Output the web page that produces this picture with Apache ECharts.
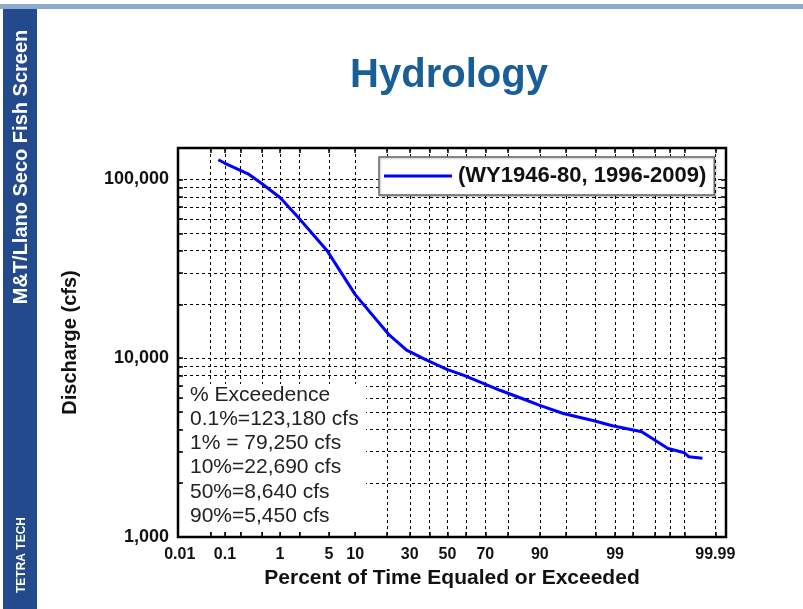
<!DOCTYPE html>
<html>
<head>
<meta charset="utf-8">
<script src="https://cdn.jsdelivr.net/npm/echarts@6/dist/echarts.min.js"></script>
<style>
  html, body { margin: 0; padding: 0; background: #ffffff; }
  #chart { width: 803px; height: 609px; }
</style>
</head>
<body>
<div id="chart"></div>
<script>
// Flow-duration curve: percent of time a discharge is equaled or exceeded
const exceedPct = [0.073, 0.1, 0.28, 0.5, 1, 1.9, 4.7, 10, 21, 28.5, 38.6, 50, 58.7, 76.7, 86.4, 90, 94.6, 97.9, 98.9, 99.65, 99.89, 99.95, 99.96, 99.98];
const dischargeCfs = [128900, 123180, 107600, 94600, 79250, 61500, 40100, 22690, 13450, 11090, 9750, 8640, 8040, 6620, 5820, 5450, 4910, 4470, 4190, 3875, 3125, 2960, 2810, 2755];

// Probability-axis grid lines and labelled ticks (percent)
const gridPct = [0.05, 0.1, 0.2, 0.5, 1, 2, 5, 10, 20, 30, 40, 50, 60, 70, 80, 90, 95, 98, 99, 99.5, 99.8, 99.9, 99.95, 99.99];
const labelPct = [0.01, 0.1, 1, 5, 10, 30, 50, 70, 90, 99, 99.99];
const pctRange = [0.0091, 99.9945];

// Log discharge axis
const gridCfs = [2000, 3000, 4000, 5000, 6000, 7000, 8000, 9000, 10000, 20000, 30000, 40000, 50000, 60000, 70000, 80000, 90000, 100000];
const labelCfs = [1000, 10000, 100000];
const cfsRange = [1000, 150000];

const seriesName = '(WY1946-80, 1996-2009)';
const exceedenceNotes = ['% Exceedence', '0.1%=123,180 cfs', '1% = 79,250 cfs', '10%=22,690 cfs', '50%=8,640 cfs', '90%=5,450 cfs'];

// Inverse standard normal CDF (Acklam) - turns a probability into the normal-score coordinate
function normInv(p) {
  const a = [-3.969683028665376e+01, 2.209460984245205e+02, -2.759285104469687e+02, 1.383577518672690e+02, -3.066479806614716e+01, 2.506628277459239e+00];
  const b = [-5.447609879822406e+01, 1.615858368580409e+02, -1.556989798598866e+02, 6.680131188771972e+01, -1.328068155288572e+01];
  const c = [-7.784894002430293e-03, -3.223964580411365e-01, -2.400758277161838e+00, -2.549732539343734e+00, 4.374664141464968e+00, 2.938163982698783e+00];
  const d = [7.784695709041462e-03, 3.224671290700398e-01, 2.445134137142996e+00, 3.754408661907416e+00];
  const pl = 0.02425;
  if (p < pl) {
    const q = Math.sqrt(-2 * Math.log(p));
    return (((((c[0]*q+c[1])*q+c[2])*q+c[3])*q+c[4])*q+c[5]) / ((((d[0]*q+d[1])*q+d[2])*q+d[3])*q+1);
  }
  if (p > 1 - pl) {
    const q = Math.sqrt(-2 * Math.log(1 - p));
    return -(((((c[0]*q+c[1])*q+c[2])*q+c[3])*q+c[4])*q+c[5]) / ((((d[0]*q+d[1])*q+d[2])*q+d[3])*q+1);
  }
  const q = p - 0.5, r = q * q;
  return (((((a[0]*r+a[1])*r+a[2])*r+a[3])*r+a[4])*r+a[5])*q / (((((b[0]*r+b[1])*r+b[2])*r+b[3])*r+b[4])*r+1);
}
const pz = pct => normInv(pct / 100);

const gridZ = gridPct.map(pz);
const labelZ = labelPct.map(pz);
function pctLabel(z) {
  let best = 0;
  labelZ.forEach((v, i) => { if (Math.abs(v - z) < Math.abs(labelZ[best] - z)) best = i; });
  return String(labelPct[best]);
}

const FONT = '"Liberation Sans", Arial, Helvetica, sans-serif';
const lineData = exceedPct.map((p, i) => [pz(p), dischargeCfs[i]]);

const chart = echarts.init(document.getElementById('chart'), null, { renderer: 'canvas' });

const gridDash = { color: '#000', width: 1, type: [3, 3] };
const tickStyle = { color: '#000', width: 1.5 };

const noteLines = exceedenceNotes.map((t, i) => ({
  type: 'text', z: 1, x: 190, y: 395 + i * 24.2,
  style: { text: t, font: '21px ' + FONT, fill: '#222', textVerticalAlign: 'middle' }
}));

chart.setOption({
  animation: false,
  backgroundColor: '#ffffff',
  grid: { left: 178, right: 77, top: 148, bottom: 72, show: true, borderColor: '#000', borderWidth: 2.5 },
  legend: {
    data: [seriesName], left: 379, top: 157, icon: 'rect',
    padding: [8, 8, 8, 5], itemGap: 0, itemWidth: 68, itemHeight: 3,
    backgroundColor: '#fff', borderColor: '#666', borderWidth: 1.5,
    shadowColor: 'rgba(0,0,0,0.25)', shadowBlur: 2, shadowOffsetX: 1, shadowOffsetY: 1,
    textStyle: { fontFamily: FONT, fontWeight: 'bold', fontSize: 22, color: '#111', padding: [0, 0, 0, 1] }
  },
  xAxis: [{
    type: 'value', min: pz(pctRange[0]), max: pz(pctRange[1]),
    axisLine: { show: false, onZero: false },
    axisTick: { show: true, inside: true, length: 5, customValues: gridZ, lineStyle: tickStyle },
    axisLabel: { show: true, customValues: labelZ, formatter: v => pctLabel(v), fontFamily: FONT, fontWeight: 'bold', fontSize: 16, color: '#111', margin: 10 },
    splitLine: { show: true, lineStyle: gridDash },
    name: 'Percent of Time Equaled or Exceeded', nameLocation: 'middle', nameGap: 23,
    nameTextStyle: { fontFamily: FONT, fontWeight: 'bold', fontSize: 21, color: '#111' }
  }, {
    type: 'value', position: 'top', min: pz(pctRange[0]), max: pz(pctRange[1]),
    axisLine: { show: false, onZero: false },
    axisTick: { show: true, inside: true, length: 5, customValues: gridZ, lineStyle: tickStyle },
    axisLabel: { show: false }, splitLine: { show: false }
  }],
  yAxis: [{
    type: 'log', logBase: 10, min: cfsRange[0], max: cfsRange[1], position: 'left',
    axisLine: { show: false, onZero: false },
    axisTick: { show: true, inside: true, length: 5, customValues: gridCfs, lineStyle: tickStyle },
    axisLabel: { show: true, customValues: labelCfs, formatter: v => Number(v).toLocaleString('en-US'), fontFamily: FONT, fontWeight: 'bold', fontSize: 18, color: '#111', margin: 9 },
    splitLine: { show: true, lineStyle: gridDash },
    minorTick: { show: false },
    name: 'Discharge (cfs)', nameLocation: 'middle', nameGap: 98,
    nameTextStyle: { fontFamily: FONT, fontWeight: 'bold', fontSize: 20, color: '#111' }
  }, {
    type: 'log', logBase: 10, min: cfsRange[0], max: cfsRange[1], position: 'right',
    axisLine: { show: false, onZero: false },
    axisTick: { show: true, inside: true, length: 5, customValues: gridCfs, lineStyle: tickStyle },
    axisLabel: { show: false }, splitLine: { show: false }
  }],
  series: [{
    name: seriesName, type: 'line', xAxisIndex: 0, yAxisIndex: 0,
    data: lineData, symbol: 'none', showSymbol: false, smooth: false, z: 3,
    lineStyle: { color: '#0000ff', width: 3 }, itemStyle: { color: '#0000ff' }
  }],
  graphic: [
    { type: 'rect', z: 5, shape: { x: 0, y: 4, width: 803, height: 5 }, style: { fill: '#8ea9cf' } },
    { type: 'rect', z: 5, shape: { x: 3, y: 9, width: 34, height: 600 }, style: { fill: '#224a8c' } },
    { type: 'text', z: 6, x: 21, y: 167, rotation: Math.PI / 2,
      style: { text: 'M&T/Llano Seco Fish Screen', font: 'bold 20px ' + FONT, fill: '#fff', textAlign: 'center', textVerticalAlign: 'middle' } },
    { type: 'text', z: 6, x: 22, y: 555, rotation: Math.PI / 2,
      style: { text: 'TETRA TECH', font: 'bold 12px ' + FONT, fill: '#fff', textAlign: 'center', textVerticalAlign: 'middle' } },
    { type: 'text', z: 6, x: 449, y: 76,
      style: { text: 'Hydrology', font: 'bold 40px ' + FONT, fill: '#1a5e98', textAlign: 'center', textVerticalAlign: 'middle' } },
    { type: 'rect', z: 1, shape: { x: 184, y: 384, width: 182, height: 146 }, style: { fill: '#fff' } }
  ].concat(noteLines)
});
</script>
</body>
</html>
